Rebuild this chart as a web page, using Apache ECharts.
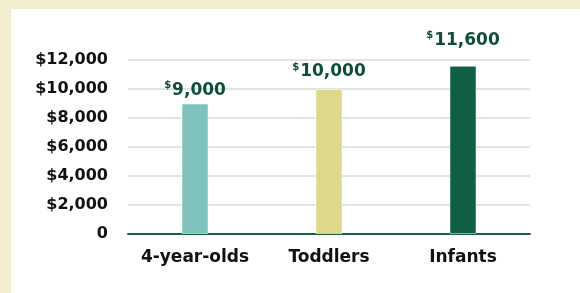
<!DOCTYPE html>
<html>
<head>
<meta charset="utf-8">
<script src="https://cdn.jsdelivr.net/npm/echarts@6/dist/echarts.min.js"></script>
<style>
  html, body { margin: 0; padding: 0; background: #f2edcf; }
  .panel {
    position: absolute;
    left: 11px; top: 9px;
    width: 569px; height: 284px;
    background: #ffffff;
  }
  #chart { width: 580px; height: 293px; position: absolute; left: 0; top: 0; }
</style>
</head>
<body>
<div class="panel"></div>
<div id="chart"></div>
<script>
const categories = ['4-year-olds', 'Toddlers', 'Infants']
const costs = [9000, 10000, 11600]
const yTicks = [0, 2000, 4000, 6000, 8000, 10000, 12000]

// colours of each bar and how far its label sits above it
const barColors = ['#7fc3bc', '#ded88a', '#0e5f43']
const labelGap = [3, 7, 15]

const fmt = v => v.toLocaleString('en-US')

const chart = echarts.init(document.getElementById('chart'))
chart.setOption({
  animation: false,
  textStyle: { fontFamily: 'DejaVu Sans' },
  grid: { left: 128, right: 50, top: 60, bottom: 59 },
  xAxis: {
    type: 'category',
    data: categories,
    axisTick: { show: false },
    axisLine: { lineStyle: { color: '#1d5e47', width: 2 } },
    axisLabel: {
      interval: 0,
      hideOverlap: false,
      color: '#111',
      fontSize: 17,
      fontWeight: 'bold',
      margin: 15
    }
  },
  yAxis: {
    type: 'value',
    min: yTicks[0],
    max: yTicks[yTicks.length - 1],
    interval: 2000,
    axisLine: { show: false },
    axisTick: { show: false },
    splitLine: { lineStyle: { color: '#dfe5e2', width: 2 } },
    axisLabel: {
      color: '#111',
      fontSize: 16,
      fontWeight: 'bold',
      margin: 20,
      formatter: v => (v === 0 ? '0' : '$' + fmt(v))
    }
  },
  series: [
    {
      type: 'bar',
      barWidth: 27,
      data: costs.map((v, i) => ({
        value: v,
        itemStyle: { color: barColors[i], borderColor: 'rgba(255,255,255,0.5)', borderWidth: 1 },
        label: { distance: labelGap[i] }
      })),
      label: {
        show: true,
        position: 'top',
        formatter: p => '{s|$}{v|' + fmt(p.value) + '}',
        rich: {
          s: { fontSize: 10, fontWeight: 'bold', color: '#0d4f36', verticalAlign: 'top', lineHeight: 20, padding: [0, 1, 0, 0] },
          v: { fontSize: 17, fontWeight: 'bold', color: '#0d4f36', lineHeight: 20 }
        }
      }
    }
  ]
})
</script>
</body>
</html>
